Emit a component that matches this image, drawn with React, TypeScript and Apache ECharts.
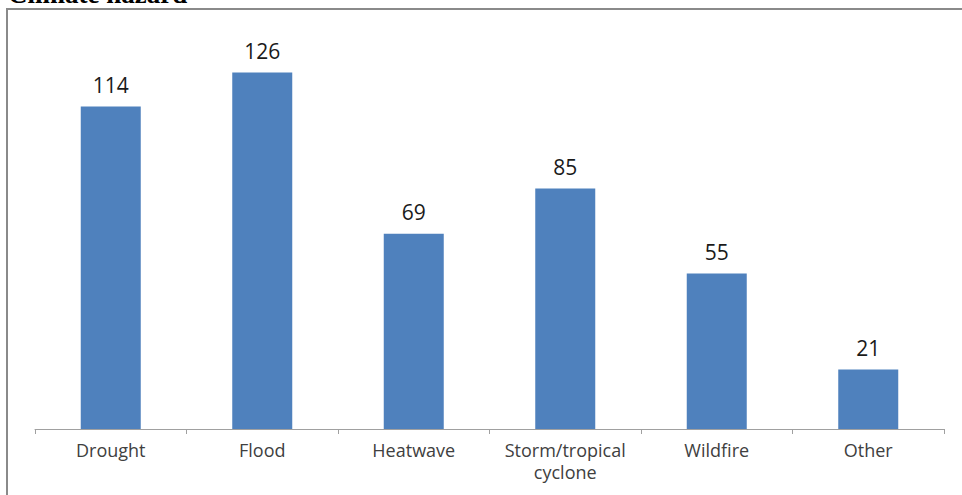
import React, { useEffect, useRef } from "react";
import * as echarts from "echarts";

const categories = ["Drought", "Flood", "Heatwave", "Storm/tropical\ncyclone", "Wildfire", "Other"];
const values = [114, 126, 69, 85, 55, 21];
const titleText = "Climate hazard";

export default function App() {
  const ref = useRef<HTMLDivElement>(null);
  useEffect(() => {
    if (!ref.current) return;
    const chart = echarts.init(ref.current, null, { renderer: "svg" });
    chart.setOption({
      animation: false,
      backgroundColor: "#ffffff",
      graphic: [
        {
          type: "rect",
          shape: { x: 7, y: 9, width: 1000, height: 600 },
          style: { fill: "none", stroke: "#8a8a8a", lineWidth: 2 },
          silent: true,
        },
        {
          type: "text",
          x: 8,
          y: -6,
          style: {
            text: titleText,
            font: "bold 27px 'Liberation Serif', 'Times New Roman', serif",
            fill: "#000000",
            verticalAlign: "middle",
          },
        },
      ],
      grid: { left: 35, right: 18, top: 33, bottom: 66, containLabel: false },
      xAxis: {
        type: "category",
        data: categories,
        axisLine: { lineStyle: { color: "#a0a0a0", width: 1 } },
        axisTick: { show: true, length: 5, lineStyle: { color: "#a0a0a0" }, alignWithLabel: false },
        axisLabel: {
          color: "#404040",
          fontFamily: "'Open Sans', sans-serif",
          fontSize: 18,
          lineHeight: 22,
          margin: 10,
          interval: 0,
        },
      },
      yAxis: {
        type: "value",
        min: 0,
        max: 140,
        show: false,
        splitLine: { show: false },
      },
      series: [
        {
          type: "bar",
          data: values,
          barWidth: 60,
          itemStyle: { color: "#4f81bd" },
          label: {
            show: true,
            position: "top",
            distance: 11,
            color: "#1a1a1a",
            fontFamily: "'Open Sans', sans-serif",
            fontSize: 21,
          },
        },
      ],
    });
    return () => chart.dispose();
  }, []);
  return (
    <div
      ref={ref}
      style={{ position: "absolute", left: 0, top: 0, width: 962, height: 495 }}
    />
  );
}
